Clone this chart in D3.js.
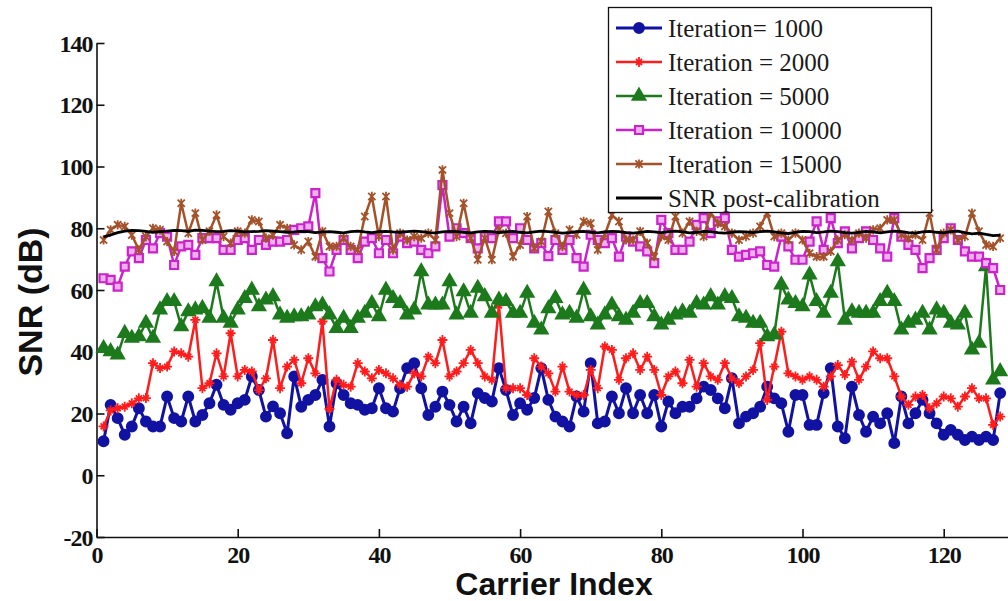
<html>
<head>
<meta charset="utf-8">
<script src="https://d3js.org/d3.v7.min.js"></script>

<style>
    body { margin: 0; background: #fff; }
    svg { display: block; background: #fff; }
    .tick text { font-family: "Liberation Serif", "Times New Roman", serif; font-weight: bold; font-size: 24px; fill: #111; }
    .axis path, .axis line { stroke: #111; stroke-width: 1.6; }
    .axis-label { font-family: "Liberation Sans", Arial, sans-serif; font-weight: bold; fill: #111; }
    .legend text { font-family: "Liberation Serif", "Times New Roman", serif; font-size: 25px; fill: #1a1a1a; }
</style>
</head>
<body>
<svg width=1008 height=601></svg>

<script>

    // carrier index 1..128
    let carriers = d3.range(1, 129);

    let iter1000 = [
        11, 22.8, 18.5, 13.1, 15.8, 21.7, 17.4, 15.8, 15.8, 25.5,
        18.5, 17.4, 25.5, 17.4, 19.5, 23.3, 29.3, 22.8, 21.2, 23.3,
        24.4, 32, 27.6, 19, 22.3, 20.1, 13.6, 32, 22.2, 24.4,
        26, 30.9, 15.8, 29.8, 26, 23.3, 22.8, 21.2, 21.7, 28.2,
        21.7, 20.6, 28.2, 34.7, 36.3, 28.2, 19.5, 22.2, 27.1, 22.8,
        17.4, 22.2, 16.8, 26.6, 25, 23.9, 34.7, 27.6, 19.5, 23.3,
        21.2, 25, 34.7, 24.4, 19, 17.4, 15.8, 25.5, 20.6, 36.3,
        16.8, 17.4, 25.5, 20.1, 28.2, 20.1, 26, 20.1, 26, 15.8,
        23.9, 20.1, 22.2, 22.2, 24.9, 28.7, 27.6, 24.9, 21.7, 31.4,
        16.8, 19, 20.1, 22.2, 28.7, 24.9, 23.3, 14.1, 26, 26,
        16.3, 16.3, 26.6, 34.7, 15.8, 12, 28.7, 19.5, 14.1, 19,
        16.8, 20.1, 10.4, 25.5, 16.8, 20.1, 24.4, 20.1, 16.8, 13.1,
        14.7, 13.1, 11.4, 12.5, 11.4, 12.5, 11.4, 26.6
    ];

    let iter2000 = [
        15.8, 21, 21.7, 22.2, 23.3, 24.9, 25, 36.3, 34.7, 35.2,
        40.1, 39.5, 38.4, 50.3, 28.2, 29.8, 39.5, 32, 46, 32,
        34.1, 33.6, 27.6, 31.4, 43.8, 28.2, 35.2, 37.4, 29.8, 37.9,
        33, 49.8, 21.5, 30.9, 29.3, 28.7, 36.3, 33.6, 31.4, 34.1,
        33, 31.4, 29.3, 28.7, 33, 32, 38.4, 36.3, 43.8, 32,
        33.6, 36.3, 40.6, 36.3, 32, 30.9, 55, 28.2, 28.2, 28.2,
        26, 37.9, 35.2, 33, 27.1, 35.2, 27.1, 26, 26, 34.1,
        28.2, 41.7, 40.6, 30.9, 37.9, 39.5, 34.1, 38.4, 34.1, 26,
        32, 33.6, 29.8, 37.4, 28.7, 36.3, 32, 30.9, 36.3, 31.4,
        29.8, 32, 34.1, 42.8, 24.4, 35.2, 46.5, 33, 32, 30.9,
        32, 30.9, 28.7, 32, 35.7, 32.5, 36.8, 30.9, 35.2, 40.1,
        37.9, 37.9, 32, 25.5, 22.8, 25.5, 26, 21.7, 23.3, 25.5,
        24.9, 22.2, 25.5, 28.2, 24.9, 24.9, 16.3, 19
    ];

    let iter5000 = [
        41.1, 40.1, 39, 46, 44.4, 44.9, 49.3, 44.4, 53.6, 56.3,
        56.3, 48.2, 53, 53.6, 54.1, 50.9, 62.7, 50.9, 49.3, 53.6,
        57.3, 60, 54.6, 56.8, 57.9, 52, 50.9, 51.4, 51.4, 52,
        54.6, 55.2, 52, 47.6, 50.9, 47.6, 50.9, 52.5, 55.7, 51.4,
        60, 57.3, 55.7, 52, 53.6, 66, 55.2, 55.2, 55.2, 62.7,
        52, 59.5, 52.5, 60.6, 57.9, 52.5, 56.8, 56.3, 52.5, 52.5,
        59, 49.3, 47.1, 54, 57.3, 52, 52.5, 50.9, 60, 51.4,
        48.7, 52, 55.2, 51.4, 50.3, 52.5, 55.7, 55.7, 51.4, 48.7,
        50.3, 52, 53, 52.5, 55.7, 55.2, 57.9, 55.2, 57.9, 57.3,
        51.4, 50.9, 49.3, 49.3, 44.9, 45.5, 61.7, 56.8, 55.7, 54.6,
        64.9, 56.3, 52.5, 59, 69.2, 50.3, 53, 52.5, 52.5, 52.5,
        56.3, 59, 56.3, 47.1, 49.3, 50.3, 52.5, 47.1, 53.6, 52.5,
        49.3, 48.7, 52.5, 40.6, 42.8, 67.6, 30.9, 33.6
    ];

    let iter10000 = [
        63.8, 63.3, 61.1, 67.6, 72.5, 70.3, 76.2, 73.5, 78.4, 77.3,
        68.1, 74.1, 74.6, 71.4, 76.8, 76.8, 76.8, 73, 73, 76.2,
        76.8, 73, 76.2, 74.6, 75.7, 75.7, 76.2, 79.5, 80, 80.6,
        91.4, 70.3, 66, 73, 76.2, 73, 70.3, 75.7, 76.8, 71.9,
        76.2, 71.9, 77.3, 75.2, 75.7, 73, 71.9, 74.1, 94, 77.3,
        80, 78.4, 76.8, 73.5, 77.3, 76.8, 82.2, 82.2, 76.8, 80,
        76.2, 73.5, 75.2, 71, 76.2, 73, 76.2, 70.3, 67.6, 77.9,
        76.2, 75.2, 76.8, 70.8, 77.3, 75.7, 74.1, 72.5, 68.7, 82.7,
        78.4, 73, 73, 75.7, 81.1, 83.3, 78.4, 82.2, 83.3, 73,
        70.8, 71.4, 71.9, 72.5, 68.1, 67.6, 77.3, 74.1, 69.8, 69.8,
        75.7, 82.2, 73, 83.3, 75.2, 79, 73.5, 76.8, 79, 76.2,
        73.5, 70.8, 83.3, 77.3, 74.6, 73, 67.1, 70.3, 73, 76.8,
        80, 76.2, 72.5, 70.8, 70.8, 68.7, 67.1, 60
    ];

    let iter15000 = [
        76.2, 79.5, 81.1, 80.6, 77.8, 73, 77.3, 80, 79.5, 75.7,
        72.5, 88.1, 78.4, 84.9, 76.2, 79, 84.3, 77.3, 75.2, 79,
        78.4, 82.7, 82.2, 76.8, 77.8, 81.1, 80, 74.6, 73, 75.7,
        70.8, 79, 74.1, 74.1, 76.8, 74.1, 73, 83.8, 90.3, 77.3,
        90.3, 73, 78.4, 76.2, 77.3, 76.8, 78.4, 76.2, 98.9, 84.9,
        77.3, 88.1, 76.8, 69.8, 76.8, 69.8, 79.5, 78.4, 70.8, 74.6,
        83.8, 73.5, 75.7, 85.4, 78.4, 74.1, 79.5, 77.9, 82.2, 81.6,
        73, 77.9, 84.3, 82.2, 76.2, 76.2, 79, 75.2, 70.8, 77.3,
        76.2, 83.8, 78.4, 82.2, 79, 77.3, 84.9, 81.6, 80.6, 78.4,
        76.2, 77.3, 78.4, 80.6, 84.9, 77.3, 78.4, 76.2, 78.4, 76.2,
        71.9, 70.8, 70.8, 72.5, 76.2, 77.9, 76.2, 78.4, 76.8, 79.5,
        80, 82.7, 82.7, 77.9, 76.8, 77.9, 76.2, 84.9, 73, 78.4,
        79.5, 76.2, 77.3, 84.9, 79, 74.6, 74.1, 76.8
    ];

    let postCal = [
        77.2, 77.8, 78.6, 79.1, 79.3, 79.2, 79.0, 78.7, 78.9, 79.1,
        79.3, 79.2, 79.0, 79.4, 79.3, 79.1, 78.9, 79.0, 79.2, 79.1,
        78.8, 78.9, 79.0, 79.2, 79.1, 78.9, 78.7, 78.8, 79.0, 78.9,
        78.6, 78.8, 78.9, 78.7, 78.5, 78.9, 79.1, 78.8, 78.6, 78.9,
        79.0, 78.8, 78.7, 78.9, 79.1, 78.9, 78.6, 78.5, 78.8, 79.0,
        78.9, 78.7, 78.5, 78.8, 79.0, 78.9, 78.6, 78.8, 79.0, 78.7,
        78.5, 78.8, 79.1, 78.9, 78.7, 78.4, 78.6, 78.9, 79.0, 78.7,
        78.5, 78.8, 79.0, 78.9, 78.6, 78.4, 78.7, 79.0, 78.8, 78.6,
        78.9, 79.1, 78.8, 78.5, 78.7, 79.0, 78.9, 78.6, 78.4, 78.7,
        78.9, 78.8, 78.6, 78.9, 79.1, 78.8, 78.5, 78.3, 78.7, 79.0,
        78.9, 78.6, 78.8, 79.1, 78.9, 78.6, 78.4, 78.7, 79.0, 78.8,
        78.5, 78.8, 79.1, 78.9, 78.6, 78.4, 78.8, 79.0, 78.7, 78.5,
        78.9, 79.1, 78.6, 78.2, 78.4, 78.0, 77.6, 77.8
    ];

    let yTicks = [-20, 0, 20, 40, 60, 80, 100, 120, 140];
    let xTicks = [0, 20, 40, 60, 80, 100, 120];

    let series = [
        { name: 'Iteration= 1000',  values: iter1000,  color: '#1212a2', marker: 'circle',   width: 3 },
        { name: 'Iteration = 2000', values: iter2000,  color: '#ff1c1c', marker: 'plus',     width: 2.5 },
        { name: 'Iteration = 5000', values: iter5000,  color: '#1c7a1c', marker: 'triangle', width: 2.5 },
        { name: 'Iteration = 10000', values: iter10000, color: '#cc22cc', marker: 'square',  width: 2.5 },
        { name: 'Iteration = 15000', values: iter15000, color: '#a4522a', marker: 'star',    width: 2.5 },
        { name: 'SNR post-calibration', values: postCal, color: '#000000', marker: null,    width: 2.8 }
    ];

    let svg = d3.select('svg');

    let x = d3.scaleLinear()
        .domain([0, 130])
        .range([96.5, 96.5 + 130 * 7.06]);

    let y = d3.scaleLinear()
        .domain([-20, 140])
        .range([537, 43]);

    // axes, ticks pointing inward like matlab
    svg.append('g')
        .attr('class', 'axis')
        .attr('transform', 'translate(' + x(0) + ',0)')
        .call(d3.axisLeft(y).tickValues(yTicks).tickFormat(d => String(d)).tickSizeInner(-8).tickSizeOuter(0).tickPadding(4))
        .selectAll('text').attr('dy', '0.34em');

    svg.append('g')
        .attr('class', 'axis')
        .attr('transform', 'translate(0,' + y(-20) + ')')
        .call(d3.axisBottom(x).tickValues(xTicks).tickSizeInner(-8).tickSizeOuter(0).tickPadding(9));

    svg.selectAll('.axis .tick text').style('letter-spacing', '-1px');

    function markerPath(type) {
        switch (type) {
            case 'circle':   return d3.symbol(d3.symbolCircle, 80)();
            case 'triangle': return d3.symbol(d3.symbolTriangle, 75)();
            case 'square':   return 'M-4,-4H4V4H-4Z';
            case 'plus':     return 'M-5,0H5M0,-5V5M-3,-3L3,3M-3,3L3,-3';
            case 'star':     return 'M-3.6,-3.6L3.6,3.6M-3.6,3.6L3.6,-3.6M0,-4.6V4.6';
        }
        return null;
    }

    function drawMarker(sel, s) {
        let fill = 'none';
        if (s.marker === 'circle' || s.marker === 'triangle') fill = s.color;
        if (s.marker === 'square') fill = '#eeb0ee';
        sel.append('path')
            .attr('d', markerPath(s.marker))
            .attr('fill', fill)
            .attr('stroke', s.color)
            .attr('stroke-width', s.marker === 'square' ? 2.2 : 1.8);
    }

    let line = d3.line()
        .x((d, i) => x(carriers[i]))
        .y(d => y(d));

    series.forEach(s => {
        let g = svg.append('g');
        g.append('path')
            .datum(s.values)
            .attr('fill', 'none')
            .attr('stroke', s.color)
            .attr('stroke-width', s.width)
            .attr('stroke-linejoin', 'round')
            .attr('d', line);
        if (s.marker) {
            g.selectAll('.m')
                .data(s.values)
              .enter()
                .append('g')
                .attr('transform', (d, i) => 'translate(' + x(carriers[i]) + ',' + y(d) + ')')
                .each(function() { drawMarker(d3.select(this), s); });
        }
    });

    // legend
    let legend = svg.append('g').attr('class', 'legend');
    legend.append('rect')
        .attr('x', 608.5).attr('y', 7.5)
        .attr('width', 323).attr('height', 205)
        .attr('fill', '#fff')
        .attr('stroke', '#111')
        .attr('stroke-width', 1.3);

    series.forEach((s, i) => {
        let ly = 28 + i * 34;
        let row = legend.append('g');
        row.append('line')
            .attr('x1', 616).attr('x2', 662)
            .attr('y1', ly).attr('y2', ly)
            .attr('stroke', s.color)
            .attr('stroke-width', s.width);
        if (s.marker) {
            let m = row.append('g').attr('transform', 'translate(639,' + ly + ')');
            drawMarker(m, s);
        }
        row.append('text')
            .attr('x', 668)
            .attr('y', ly)
            .attr('dy', '0.35em')
            .text(s.name);
    });

    // axis titles
    svg.append('text')
        .attr('class', 'axis-label')
        .attr('x', 554)
        .attr('y', 595)
        .attr('text-anchor', 'middle')
        .style('font-size', '32px')
        .text('Carrier Index');

    svg.append('text')
        .attr('class', 'axis-label')
        .attr('transform', 'translate(42,302) rotate(-90)')
        .attr('text-anchor', 'middle')
        .style('font-size', '34px')
        .text('SNR (dB)');

</script>
</body>
</html>
